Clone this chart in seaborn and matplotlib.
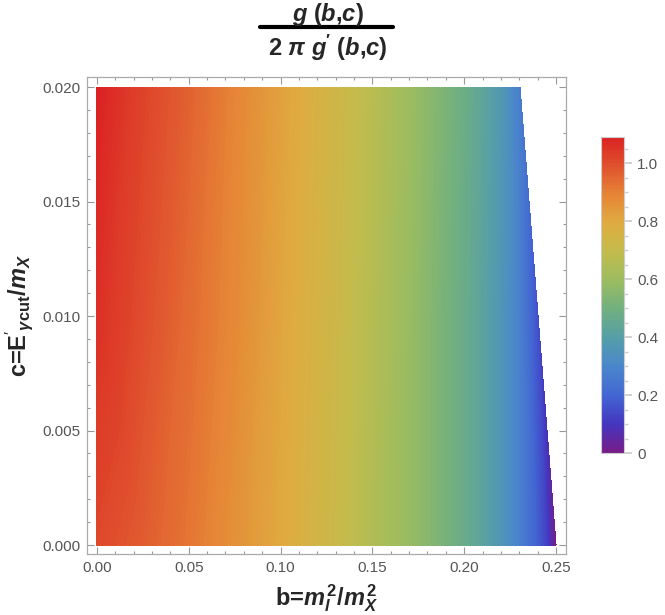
import numpy as np
import matplotlib
matplotlib.use("Agg")
import matplotlib.pyplot as plt
import matplotlib.tri as mtri
from matplotlib.lines import Line2D
from matplotlib.ticker import MultipleLocator, FixedLocator
import seaborn as sns

# values, one row per c
c_rows = [0.0, 0.01, 0.02]
b_row_c0 = [0.0, 0.025, 0.05, 0.075, 0.1, 0.125, 0.15, 0.175, 0.2, 0.21, 0.22, 0.23, 0.24, 0.245, 0.25]
g_row_c0 = [1.01, 0.97, 0.92, 0.86, 0.80, 0.73, 0.65, 0.57, 0.47, 0.42, 0.36, 0.28, 0.18, 0.12, 0.0]
b_row_c1 = [0.0, 0.025, 0.05, 0.075, 0.1, 0.125, 0.15, 0.175, 0.2, 0.21, 0.22, 0.23, 0.2401]
g_row_c1 = [1.06, 1.0, 0.94, 0.88, 0.81, 0.74, 0.66, 0.57, 0.47, 0.42, 0.36, 0.28, 0.15]
b_row_c2 = [0.0, 0.025, 0.05, 0.075, 0.1, 0.125, 0.15, 0.175, 0.2, 0.21, 0.22, 0.2304]
g_row_c2 = [1.09, 1.02, 0.96, 0.89, 0.82, 0.75, 0.67, 0.58, 0.48, 0.43, 0.37, 0.27]

x_ticks = [0.0, 0.05, 0.1, 0.15, 0.2, 0.25]
x_tick_labels = ["0.00", "0.05", "0.10", "0.15", "0.20", "0.25"]
y_ticks = [0.0, 0.005, 0.01, 0.015, 0.02]
y_tick_labels = ["0.000", "0.005", "0.010", "0.015", "0.020"]
cbar_ticks = [0, 0.2, 0.4, 0.6, 0.8, 1.0]
cbar_tick_labels = ["0", "0.2", "0.4", "0.6", "0.8", "1.0"]
g_max = 1.09

sns.set_theme(style="white")
plt.rcParams["font.family"] = ["Liberation Sans", "DejaVu Sans"]
plt.rcParams["mathtext.fontset"] = "custom"
plt.rcParams["mathtext.rm"] = "Liberation Sans"
plt.rcParams["mathtext.it"] = "Liberation Sans:italic"
plt.rcParams["mathtext.bf"] = "Liberation Sans:bold"
plt.rcParams["mathtext.bfit"] = "Liberation Sans:bold:italic"

rainbow = sns.blend_palette(
    ["#781c87", "#4336c0", "#4366d3", "#4a86cc", "#559ea8", "#70b07f",
     "#9bbc60", "#c2bc4c", "#dfac40", "#e68536", "#e0522e", "#db2222"],
    n_colors=256, as_cmap=True)

b_all = np.array(b_row_c0 + b_row_c1 + b_row_c2)
c_all = np.array([c_rows[0]] * len(b_row_c0) + [c_rows[1]] * len(b_row_c1) + [c_rows[2]] * len(b_row_c2))
g_all = np.array(g_row_c0 + g_row_c1 + g_row_c2)

# triangulate on rescaled coordinates so triangles are not stretched
tri_scaled = mtri.Triangulation(b_all, c_all * 12.5)
tri = mtri.Triangulation(b_all, c_all, tri_scaled.triangles)

fig = plt.figure(figsize=(6.65, 6.15), dpi=100)
ax = fig.add_axes([0.1308, 0.0992, 0.7203, 0.7756])
levels = np.linspace(0, g_max, 220)
cs = ax.tricontourf(tri, g_all, levels=levels, cmap=rainbow, vmin=0, vmax=g_max)

ax.set_xlim(-0.0054, 0.2554)
ax.set_ylim(-0.00039, 0.02044)
ax.xaxis.set_major_locator(FixedLocator(x_ticks))
ax.set_xticklabels(x_tick_labels)
ax.yaxis.set_major_locator(FixedLocator(y_ticks))
ax.set_yticklabels(y_tick_labels)
ax.xaxis.set_minor_locator(MultipleLocator(0.01))
ax.yaxis.set_minor_locator(MultipleLocator(0.001))
ax.tick_params(which="both", direction="in", top=True, right=True, bottom=True, left=True,
               color="#999999", width=0.8, labelsize=11, labelcolor="#555555", pad=5)
ax.tick_params(which="major", length=5)
ax.tick_params(which="minor", length=2.5)
for sp in ax.spines.values():
    sp.set_color("#aaaaaa")
    sp.set_linewidth(0.9)

ax.set_xlabel(r"b=$\mathbfit{m}_{\mathbfit{l}}^{\,\mathbf{2}}\mathbf{/}\mathbfit{m}_{\mathbfit{X}}^{\,\mathbf{2}}$",
              fontsize=17, fontweight="bold", labelpad=5)
ax.set_ylabel(r"c=$\mathbf{E}'_{\boldsymbol{\gamma}\mathbf{cut}}\mathbf{/}\mathbfit{m}_{\mathbfit{X}}$",
              fontsize=17, fontweight="bold", labelpad=5)

# title written as a fraction
fig.text(0.493, 0.977, r"$\mathbfit{g}\ \mathbf{(}\mathbfit{b}\mathbf{,}\mathbfit{c}\mathbf{)}$",
         fontsize=17, ha="center", va="center")
fig.add_artist(Line2D([260 / 665, 393 / 665], [1 - 27 / 615, 1 - 27 / 615], color="black", lw=3))
fig.text(0.493, 0.922, r"$\mathbf{2}\ \boldsymbol{\pi}\ \mathbfit{g}\mathbf{'}\ \mathbf{(}\mathbfit{b}\mathbf{,}\mathbfit{c}\mathbf{)}$",
         fontsize=17, ha="center", va="center")

cax = fig.add_axes([0.9038, 0.2634, 0.0346, 0.5138])
cbar = fig.colorbar(cs, cax=cax, ticks=cbar_ticks)
cbar.ax.set_ylim(0, g_max)
cbar.ax.set_yticklabels(cbar_tick_labels)
cbar.ax.yaxis.set_minor_locator(MultipleLocator(0.05))
cbar.ax.tick_params(which="both", direction="out", color="#cccccc", labelsize=11, labelcolor="#555555")
cbar.ax.tick_params(which="major", length=6)
cbar.ax.tick_params(which="minor", length=3)
cbar.outline.set_edgecolor("#cccccc")
cbar.outline.set_linewidth(0.8)

fig.savefig("out.png", dpi=100)
